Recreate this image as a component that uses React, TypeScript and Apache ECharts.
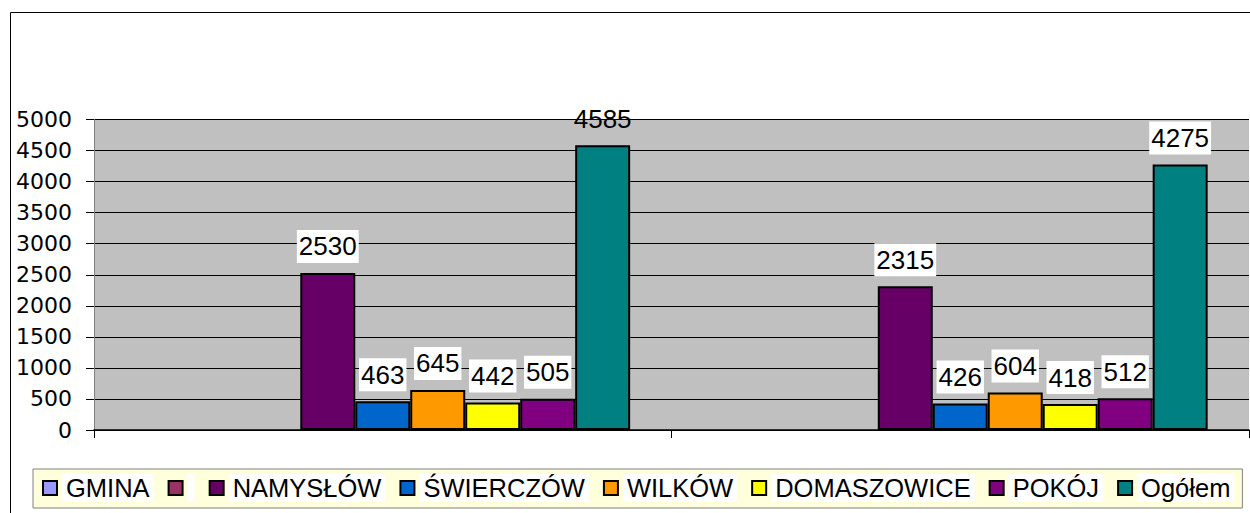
import React, { useEffect, useRef } from "react";
import * as echarts from "echarts";

const categories = ["", ""];
const seriesNames = ["GMINA", " ", "  ", "NAMYSŁÓW", "ŚWIERCZÓW", "WILKÓW", "DOMASZOWICE", "POKÓJ", "Ogółem"];
const legendNames = ["GMINA", " ", "NAMYSŁÓW", "ŚWIERCZÓW", "WILKÓW", "DOMASZOWICE", "POKÓJ", "Ogółem"];
const seriesColors = ["#9999FF", "#993366", "#993366", "#660066", "#0066CC", "#FF9900", "#FFFF00", "#800080", "#008080"];
const gmina: (number | null)[] = [null, null];
const blank1: (number | null)[] = [null, null];
const blank2: (number | null)[] = [null, null];
const namyslow = [2530, 2315];
const swierczow = [463, 426];
const wilkow = [645, 604];
const domaszowice = [442, 418];
const pokoj = [505, 512];
const ogolem = [4585, 4275];
const seriesValues = [gmina, blank1, blank2, namyslow, swierczow, wilkow, domaszowice, pokoj, ogolem];
const yMin = 0;
const yMax = 5000;
const yStep = 500;

const ARIAL = "'Liberation Sans', Arial, sans-serif";

export default function App() {
  const ref = useRef<HTMLDivElement>(null);
  useEffect(() => {
    if (!ref.current) return;
    const chart = echarts.init(ref.current, undefined, { renderer: "svg" });
    const plotH = 513 - 119.5 - 83;
    const labelSpace = 10 + 33;
    const bgLimit = ((plotH - labelSpace) / plotH) * yMax;
    const series = seriesNames.map((name, i) => ({
      name,
      type: "bar",
      barGap: "0%",
      barCategoryGap: "14.32%",
      itemStyle: { color: seriesColors[i], borderColor: "#000", borderWidth: 2 },
      label: {
        show: true,
        position: "top",
        distance: 10,
        color: "#000",
        fontFamily: ARIAL,
        fontSize: 26,
        lineHeight: 29,
        padding: [2, 2, 2, 2],
        backgroundColor: "#fff",
      },
      data: seriesValues[i].map((v) =>
        v === null
          ? null
          : { value: v, label: v > bgLimit ? { backgroundColor: "transparent" } : {} }
      ),
    }));
    chart.setOption({
      animation: false,
      backgroundColor: "#fff",
      grid: {
        left: 94,
        right: 1,
        top: 119.5,
        bottom: 83,
        show: true,
        backgroundColor: "#C0C0C0",
        borderWidth: 0,
      },
      legend: {
        data: legendNames,
        left: 33,
        top: 469,
        width: 1500,
        orient: "horizontal",
        padding: [5, 8, 6, 9],
        itemGap: 14,
        itemWidth: 14,
        itemHeight: 14,
        icon: "rect",
        backgroundColor: "#FFFFDC",
        borderColor: "#808080",
        borderWidth: 1,
        itemStyle: { borderColor: "#000", borderWidth: 2 },
        formatter: (name: string) => (name.trim() === "" ? `{b|${name}}` : `{t|${name}}`),
        textStyle: {
          fontFamily: ARIAL,
          fontSize: 25.5,
          color: "#000",
          rich: {
            t: {
              fontFamily: ARIAL,
              fontSize: 25.5,
              color: "#000",
              lineHeight: 28,
              backgroundColor: "#fff",
              padding: [1, 4, 1, 4],
            },
            b: {
              fontFamily: ARIAL,
              fontSize: 25.5,
              lineHeight: 28,
              backgroundColor: "#fff",
              padding: [1, 0, 1, 0],
            },
          },
        },
      },
      xAxis: {
        type: "category",
        data: categories,
        axisLine: { show: true, lineStyle: { color: "#000", width: 1.5 } },
        axisTick: { show: true, length: 8, lineStyle: { color: "#000" } },
        axisLabel: { show: false },
        splitLine: { show: false },
      },
      yAxis: {
        type: "value",
        min: yMin,
        max: yMax,
        interval: yStep,
        axisLine: { show: true, lineStyle: { color: "#808080", width: 1 } },
        axisTick: { show: true, length: 8, lineStyle: { color: "#000" } },
        axisLabel: {
          margin: 22,
          color: "#000",
          fontFamily: "'DejaVu Sans', sans-serif",
          fontSize: 22,
          formatter: (v: number) => String(v),
        },
        splitLine: { show: true, lineStyle: { color: "#000", width: 1 } },
      },
      graphic: [
        {
          type: "rect",
          silent: true,
          z: 100,
          shape: { x: 10.5, y: 12.5, width: 2000, height: 2000 },
          style: { fill: "none", stroke: "#000", lineWidth: 1 },
        },
      ],
      series,
    });
    return () => chart.dispose();
  }, []);
  return (
    <div
      ref={ref}
      style={{ position: "absolute", left: 0, top: 0, width: 1250, height: 513 }}
    />
  );
}
